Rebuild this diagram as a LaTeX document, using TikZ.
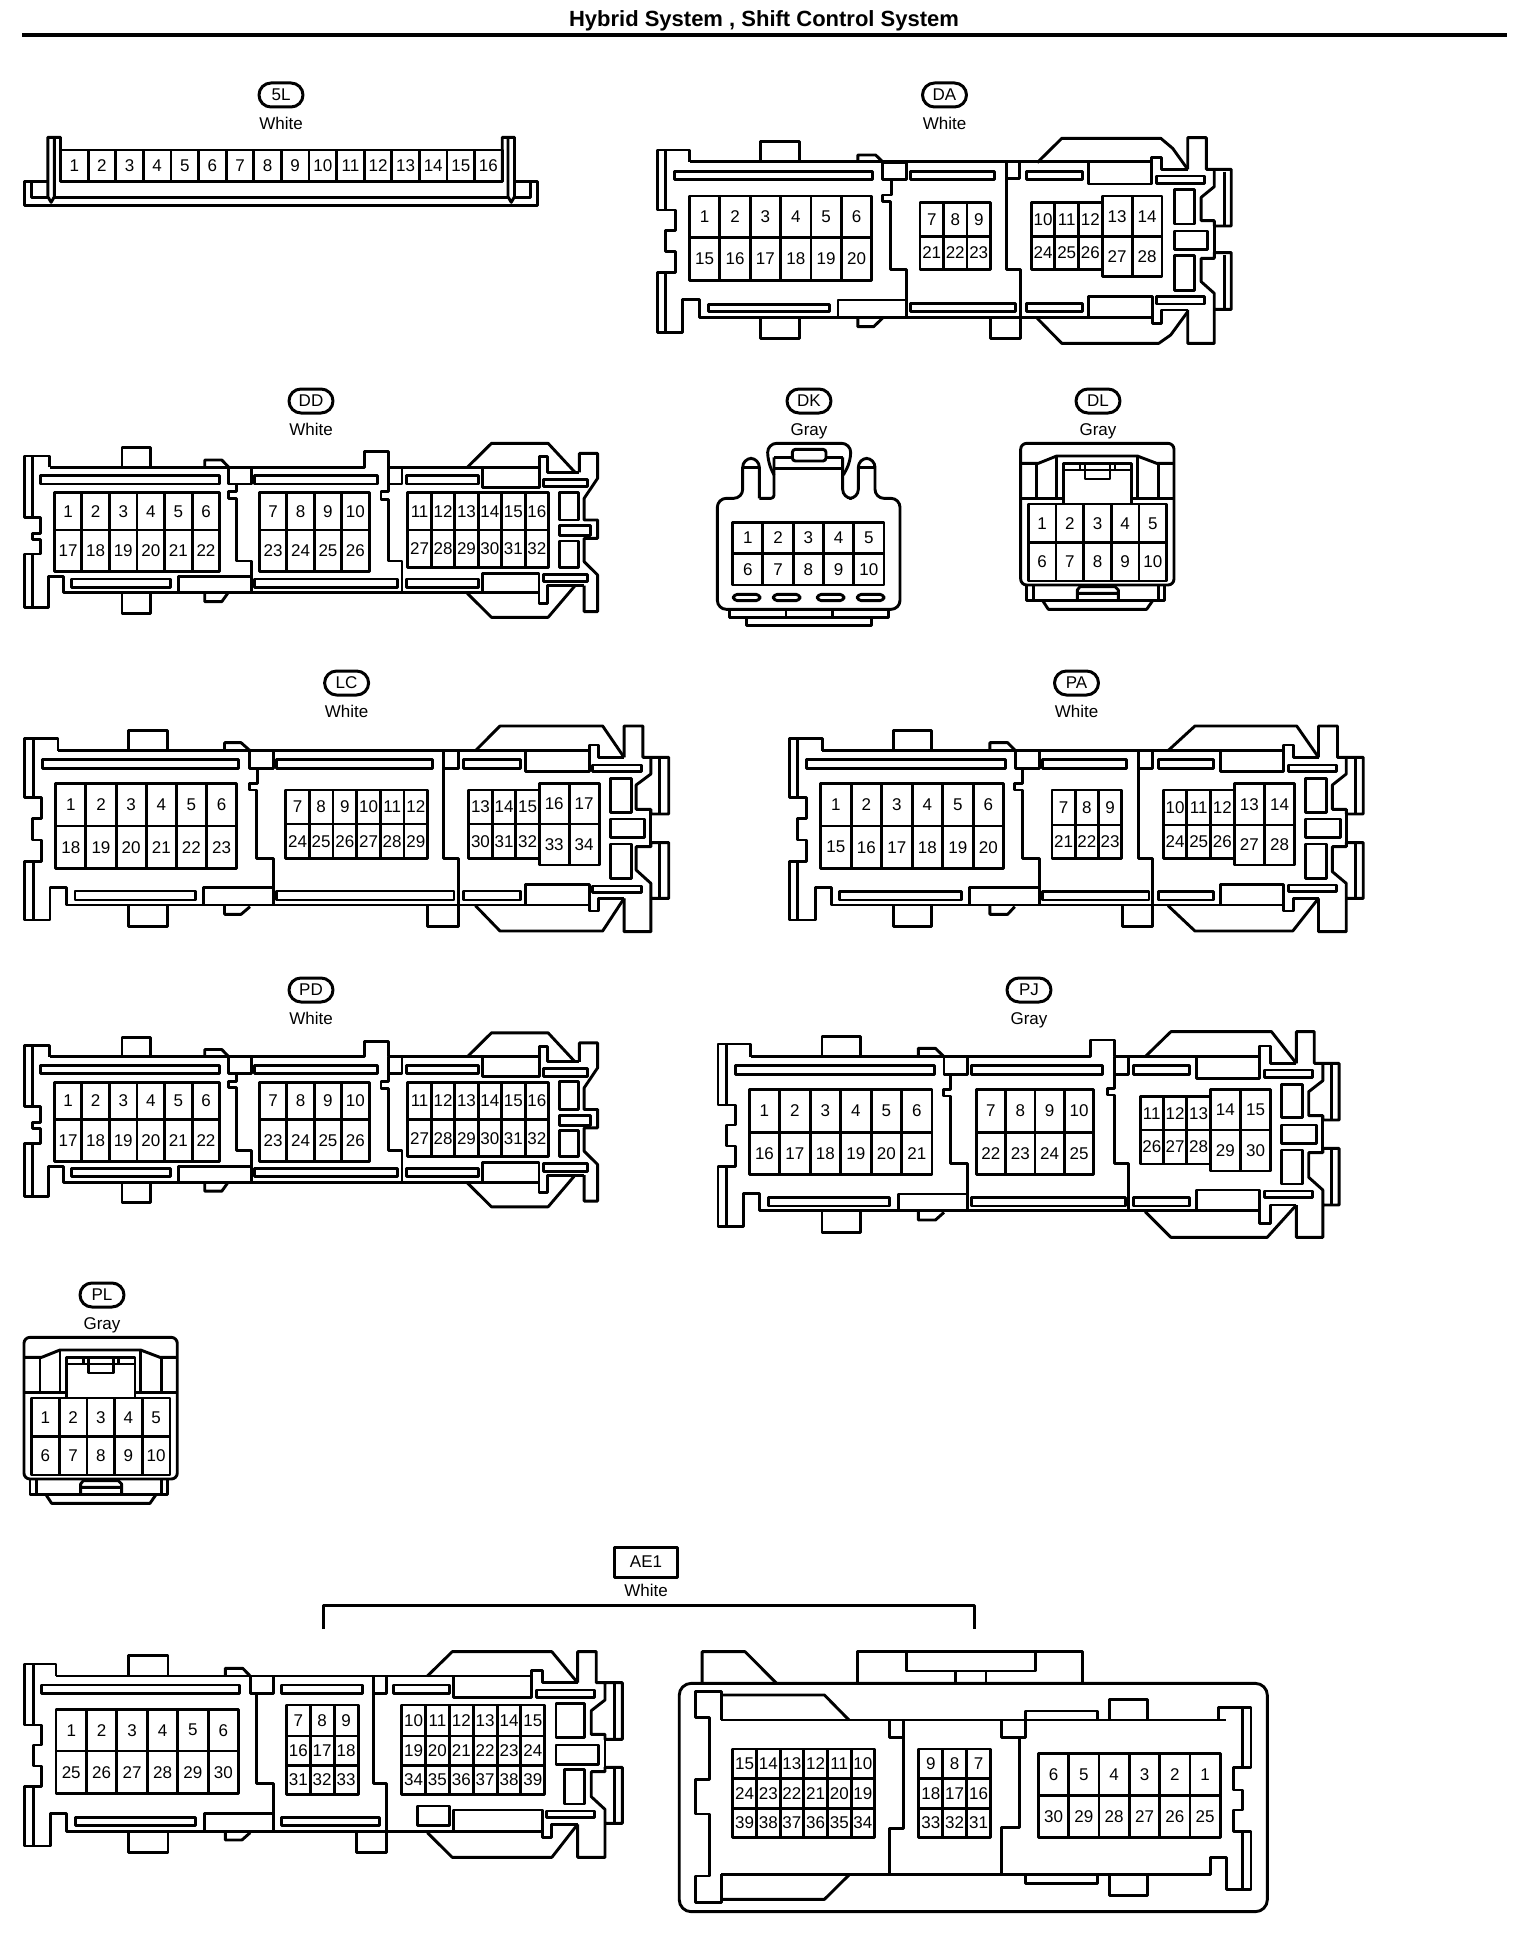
\documentclass[tikz,border=0pt]{standalone}
\usepackage{fontspec}
\setmainfont{Liberation Sans}
\newcount\pinno
\tikzset{
 pinlab/.style={inner sep=0pt,font=\fontsize{17}{17}\selectfont},
 badge/.style={draw,rounded corners=12pt,minimum width=44pt,minimum height=24pt,inner sep=0pt,line width=3pt,font=\fontsize{17}{17}\selectfont},
 tagbox/.style={draw,minimum width=63pt,minimum height=30pt,inner sep=0pt,line width=3pt,font=\fontsize{17}{17}\selectfont},
 colourlab/.style={inner sep=0pt,text height=12.2pt,text depth=0pt,font=\fontsize{17}{17}\selectfont},
 titlelab/.style={inner sep=0pt,font=\fontsize{22}{22}\selectfont\bfseries}
}
\newcommand\pinrow[6]{%
 \foreach \lab [count=\pinidx] in {#6}{%
  \pgfmathsetmacro\xa{#3+(#4-#3)/#5*(\pinidx-1)}%
  \pgfmathsetmacro\xb{#3+(#4-#3)/#5*\pinidx}%
  \global\advance\pinno by 1
  \draw (\xa,#1) rectangle (\xb,#2);
  \node[pinlab] (p\the\pinno) at ({(\xa+\xb)/2},{(#1+#2)/2}) {\lab};
 }}
\newcommand\tagged[5]{%
 \node[badge] (b#1) at (#2,#3) {#1};
 \node[colourlab] (c#1) at (#2,#3+28) {#4};}
\newcommand\ddshape{%
 \draw (125,262)--(125,228)--(62,228)--(62,412)--(103,412)--(103,460)--(82,460)--(82,478)--(103,478)--(103,522)--(62,522)--(62,682)--(122,682)--(122,590)--(160,590)--(160,638)--(1361,638);
 \draw (82,228)--(82,412) (82,522)--(82,682);
 \draw (125,262)--(920,262)--(920,215)--(980,215)--(980,262)--(1363,262);
 \draw (308,262)--(308,203)--(380,203)--(380,262) (308,640)--(308,700)--(380,700)--(380,640);
 \draw (517,262)--(517,240)--(560,240)--(578,262) (517,640)--(517,665)--(560,665)--(575,640);
 \draw (103,287) rectangle (555,312) (180,597) rectangle (430,622);
 \draw (578,262)--(578,312)--(635,312)--(635,262);
 \draw (597,312)--(597,335)--(578,335)--(578,355)--(597,355)--(597,543)--(635,543)--(635,638);
 \draw (450,638)--(450,590)--(635,590);
 \draw (643,287) rectangle (953,312) (643,597) rectangle (1003,622);
 \draw (980,262)--(980,335)--(962,335)--(962,358)--(980,358)--(980,543)--(1015,543)--(1015,638);
 \draw (980,312)--(1015,312)--(1015,262);
 \draw (1027,287) rectangle (1208,312) (1027,597) rectangle (1208,622);
 \draw (1219,262)--(1219,322)--(1363,322)--(1363,230)--(1382,230)--(1382,277)--(1463,277);
 \draw (1219,638)--(1219,580)--(1361,580)--(1361,670)--(1382,670)--(1382,617)--(1475,617);
 \draw (1180,262)--(1241,190)--(1384,190)--(1452,277);
 \draw (1180,640)--(1241,712)--(1384,712)--(1452,617);
 \draw (1463,277)--(1463,220)--(1509,220)--(1509,295)--(1475,355)--(1475,420)--(1509,420)--(1509,475)--(1475,475)--(1475,545)--(1509,585)--(1509,695)--(1475,695)--(1475,617);
 \draw (1412,337) rectangle (1460,420) (1412,437) rectangle (1491,467) (1412,483) rectangle (1460,562);
 \draw (1372,298) rectangle (1484,320) (1372,583) rectangle (1484,605);
 \pinrow{338}{450}{137}{555}{6}{1,2,3,4,5,6}
 \pinrow{450}{575}{137}{555}{6}{17,18,19,20,21,22}
 \pinrow{338}{450}{655}{932}{4}{7,8,9,10}
 \pinrow{450}{575}{655}{932}{4}{23,24,25,26}
 \pinrow{338}{450}{1030}{1385}{6}{11,12,13,14,15,16}
 \pinrow{450}{562}{1030}{1385}{6}{27,28,29,30,31,32}
}
\newcommand\dlshape{%
 \draw[rounded corners=6pt] (962,190) rectangle (1422,615);
 \draw (962,250)--(1015,250)--(1070,228)--(1312,228)--(1370,250)--(1422,250);
 \draw (1010,250)--(1010,355) (1070,228)--(1070,355) (1312,228)--(1312,355) (1375,250)--(1375,355);
 \draw (962,355)--(1090,355) (1295,355)--(1422,355);
 \draw (1090,370)--(1090,250)--(1295,250)--(1295,370);
 \draw (1090,270)--(1295,270) (1140,250)--(1140,270) (1245,250)--(1245,270);
 \draw (1155,250)--(1155,297)--(1230,297)--(1230,250);
 \pinrow{372}{488}{985}{1400}{5}{1,2,3,4,5}
 \pinrow{488}{603}{985}{1400}{5}{6,7,8,9,10}
 \draw (980,615)--(980,662)--(1393,662)--(1393,615) (1000,615)--(1000,662) (1375,615)--(1375,662);
 \draw (1132,662)--(1132,630)--(1140,620)--(1245,620)--(1255,630)--(1255,662) (1132,640)--(1255,640);
 \draw (1028,662)--(1045,688)--(1340,688)--(1358,662);
}
\begin{document}
\begin{tikzpicture}[x=1pt,y=-1pt,line width=2.9pt,line join=round]
\useasboundingbox (0,0) rectangle (1520,1940);
\fill[white] (0,0) rectangle (1520,1940);
% title
\node[titlelab] (title) at (764,21) {Hybrid System , Shift Control System};
\coordinate (ruleL) at (22,35);
\coordinate (ruleR) at (1507,35);
\draw[line width=4pt] (ruleL)--(ruleR);

% 5L
\tagged{5L}{281}{95}{White}{}
\begin{scope}[xscale=1/2.445,yscale=1/3]
 \draw (118,545)--(60,545)--(60,617)--(1315,617)--(1315,545)--(1258,545);
 \draw (118,593)--(78,593)--(78,545) (1258,593)--(1297,593)--(1297,545);
 \draw (133,593)--(1242,593);
 \draw (148,545)--(148,412)--(117,412)--(117,590)--(125,607)--(133,590)--(133,412);
 \draw (1228,545)--(1228,412)--(1258,412)--(1258,590)--(1250,607)--(1242,590)--(1242,412);
 \pinrow{450}{545}{148}{1228}{16}{1,2,3,4,5,6,7,8,9,10,11,12,13,14,15,16}
\end{scope}

% DA
\tagged{DA}{944.5}{95}{White}{}
\begin{scope}[shift={(640,70)},xscale=1/2.525,yscale=1/3]
 \draw (125,275)--(125,240)--(45,240)--(45,420)--(90,420)--(90,482)--(65,482)--(65,545)--(90,545)--(90,608)--(45,608)--(45,787)--(108,787)--(108,688)--(150,688)--(150,742)--(1295,742);
 \draw (125,275)--(1292,275);
 \draw (65,240)--(65,420) (65,608)--(65,787);
 \draw (305,275)--(305,215)--(403,215)--(403,275) (305,745)--(305,805)--(403,805)--(403,745);
 \draw (550,275)--(550,255)--(595,255)--(615,278) (550,745)--(550,770)--(590,770)--(612,745);
 \draw (88,305) rectangle (588,328) (172,703) rectangle (478,725);
 \draw (612,278)  rectangle (672,328);
 \draw (635,328)--(635,375)--(612,375)--(612,395)--(632,395)--(632,598)--(672,598)--(672,742);
 \draw (500,742)--(500,690)--(672,690);
 \draw (683,305) rectangle (895,328) (683,700) rectangle (948,725);
 \draw (885,745)--(885,805)--(960,805)--(960,742);
 \draw (925,278)--(925,598)--(960,598)--(960,742);
 \draw (925,325)--(958,325)--(958,278);
 \draw (977,305) rectangle (1117,328) (977,700) rectangle (1117,725);
 \draw (1132,278)--(1132,342)--(1292,342)--(1292,262)--(1317,262)--(1317,298)--(1383,298);
 \draw (1132,742)--(1132,680)--(1295,680)--(1295,760)--(1317,760)--(1317,720)--(1383,720);
 \draw (1003,278)--(1065,205)--(1315,205)--(1345,235)--(1383,298);
 \draw (1003,745)--(1065,820)--(1310,820)--(1340,795)--(1383,725);
 \draw (1383,298)--(1383,203)--(1430,203)--(1430,298)--(1493,298)--(1493,468)--(1450,468)--(1450,452)--(1417,452)--(1417,382)--(1450,350)--(1450,298);
 \draw (1383,720)--(1383,820)--(1450,820)--(1450,718)--(1493,718)--(1493,548)--(1450,548)--(1450,565)--(1417,565)--(1417,635)--(1450,670)--(1450,718);
 \draw (1450,452)--(1450,565) (1475,305)--(1475,465) (1475,555)--(1475,715);
 \draw (1305,318) rectangle (1425,340) (1305,680) rectangle (1425,702);
 \draw (1350,358) rectangle (1400,462) (1350,483) rectangle (1433,538) (1350,556) rectangle (1400,662);
 \pinrow{378}{502}{125}{585}{6}{1,2,3,4,5,6}
 \pinrow{502}{632}{125}{585}{6}{15,16,17,18,19,20}
 \pinrow{397}{500}{707}{885}{3}{7,8,9}
 \pinrow{500}{598}{707}{885}{3}{21,22,23}
 \pinrow{397}{500}{988}{1167}{3}{10,11,12}
 \pinrow{500}{598}{988}{1167}{3}{24,25,26}
 \pinrow{378}{500}{1167}{1318}{2}{13,14}
 \pinrow{500}{620}{1167}{1318}{2}{27,28}
\end{scope}

% DD
\tagged{DD}{311}{401}{White}{}
\begin{scope}[shift={(0,380)},xscale=1/2.525,yscale=1/3]
 \ddshape
\end{scope}

% DK
\tagged{DK}{809}{401}{Gray}{}
\begin{scope}[shift={(700,380)},xscale=1/3,yscale=1/3]
 \draw[rounded corners=9pt] (178,355)--(178,235)--(128,235)--(128,355)--(52,355)--(52,688)--(600,688)--(600,355)--(525,355)--(525,235)--(475,235)--(475,355)--(428,355)--(428,232);
 \draw[rounded corners=3pt] (178,355)--(222,355)--(222,232);
 \draw (130,262)--(178,262) (475,262)--(525,262);
 \draw[rounded corners=9pt] (222,285)--(203,245)--(203,190)--(452,190)--(452,245)--(430,285);
 \draw[rounded corners=3pt] (277,208) rectangle (378,243);
 \draw (222,232)--(277,232) (378,232)--(428,232) (222,265)--(428,265);
 \pinrow{427}{520}{98}{552}{5}{1,2,3,4,5}
 \pinrow{520}{615}{98}{552}{5}{6,7,8,9,10}
 \draw[rounded corners=4pt] (100,643) rectangle (180,662) (220,643) rectangle (300,662) (352,643) rectangle (432,662) (472,643) rectangle (552,662);
 \draw (88,688)--(88,712)--(140,712)--(140,737)--(515,737)--(515,712)--(565,712)--(565,688);
 \draw (88,712)--(565,712) (258,688)--(258,712) (398,688)--(398,712);
\end{scope}

% DL
\tagged{DL}{1098}{401}{Gray}{}
\begin{scope}[shift={(700,380)},xscale=1/3,yscale=1/3]
 \dlshape
\end{scope}

% LC
\tagged{LC}{346.6}{683}{White}{}
\begin{scope}[shift={(0,670)},xscale=1/2.24,yscale=1/3]
 \draw (130,242)--(130,205)--(55,205)--(55,382)--(92,382)--(92,445)--(72,445)--(72,510)--(92,510)--(92,575)--(55,575)--(55,750)--(112,750)--(112,652)--(148,652)--(148,705)--(1320,705);
 \draw (75,205)--(75,382) (75,575)--(75,750);
 \draw (130,242)--(1320,242);
 \draw (288,242)--(288,182)--(375,182)--(375,242) (288,707)--(288,770)--(375,770)--(375,707);
 \draw (503,242)--(503,218)--(540,218)--(560,242) (503,707)--(503,733)--(540,733)--(560,710);
 \draw (95,268) rectangle (535,295) (168,663) rectangle (438,690);
 \draw (558,242)--(558,295)--(612,295)--(612,242);
 \draw (577,295)--(577,340)--(558,340)--(558,360)--(575,360)--(575,565)--(612,565)--(612,705);
 \draw (455,705)--(455,652)--(612,652);
 \draw (620,268) rectangle (968,295) (620,663) rectangle (1017,690);
 \draw (958,705)--(958,770)--(1027,770)--(1027,705);
 \draw (993,242)--(993,565)--(1027,565)--(1027,705);
 \draw (993,295)--(1027,295)--(1027,242);
 \draw (1038,268) rectangle (1165,295) (1038,663) rectangle (1165,690);
 \draw (1177,242)--(1177,305)--(1320,305)--(1320,225)--(1340,225)--(1340,262)--(1398,262);
 \draw (1177,705)--(1177,643)--(1320,643)--(1320,723)--(1340,723)--(1340,685)--(1398,685);
 \draw (1065,242)--(1120,168)--(1350,168)--(1398,262) (1065,707)--(1120,783)--(1350,783)--(1398,685);
 \draw (1398,262)--(1398,168)--(1440,168)--(1440,262)--(1498,262)--(1498,432)--(1458,432)--(1458,418)--(1425,418)--(1425,345)--(1458,312)--(1458,262);
 \draw (1398,685)--(1398,785)--(1458,785)--(1458,685)--(1498,685)--(1498,518)--(1458,518)--(1458,530)--(1425,530)--(1425,600)--(1458,640)--(1458,685);
 \draw (1458,418)--(1458,530) (1478,268)--(1478,430) (1478,522)--(1478,683);
 \draw (1328,285) rectangle (1438,305) (1328,648) rectangle (1438,667);
 \draw (1368,325) rectangle (1415,427) (1368,447) rectangle (1443,503) (1368,522) rectangle (1415,625);
 \pinrow{340}{468}{125}{530}{6}{1,2,3,4,5,6}
 \pinrow{468}{595}{125}{530}{6}{18,19,20,21,22,23}
 \pinrow{360}{462}{640}{958}{6}{7,8,9,10,11,12}
 \pinrow{462}{565}{640}{958}{6}{24,25,26,27,28,29}
 \pinrow{360}{462}{1050}{1208}{3}{13,14,15}
 \pinrow{462}{565}{1050}{1208}{3}{30,31,32}
 \pinrow{340}{462}{1208}{1342}{2}{16,17}
 \pinrow{462}{585}{1208}{1342}{2}{33,34}
\end{scope}

% PA
\tagged{PA}{1076.5}{683}{White}{}
\begin{scope}[shift={(770,670)},xscale=1/2.525,yscale=1/3]
 \draw (132,242)--(132,205)--(50,205)--(50,382)--(92,382)--(92,445)--(70,445)--(70,510)--(92,510)--(92,575)--(50,575)--(50,750)--(115,750)--(115,652)--(155,652)--(155,705)--(1297,705);
 \draw (70,205)--(70,382) (70,575)--(70,750);
 \draw (132,242)--(1297,242);
 \draw (312,242)--(312,182)--(408,182)--(408,242) (312,707)--(312,770)--(408,770)--(408,707);
 \draw (555,242)--(555,218)--(600,218)--(620,242) (555,707)--(555,733)--(600,733)--(618,710);
 \draw (93,268) rectangle (595,295) (175,665) rectangle (483,690);
 \draw (620,242)--(620,295)--(680,295)--(680,242);
 \draw (638,295)--(638,340)--(618,340)--(618,360)--(637,360)--(637,565)--(680,565)--(680,705);
 \draw (503,705)--(503,652)--(680,652);
 \draw (688,268) rectangle (900,295) (688,665) rectangle (957,690);
 \draw (890,705)--(890,770)--(965,770)--(965,705);
 \draw (930,242)--(930,565)--(965,565)--(965,705);
 \draw (930,295)--(965,295)--(965,242);
 \draw (980,268) rectangle (1120,295) (980,665) rectangle (1120,690);
 \draw (1137,242)--(1137,305)--(1297,305)--(1297,225)--(1322,225)--(1322,262)--(1385,262);
 \draw (1137,705)--(1137,643)--(1297,643)--(1297,723)--(1322,723)--(1322,685)--(1385,685);
 \draw (1005,242)--(1073,168)--(1330,168)--(1385,262) (1005,707)--(1073,783)--(1320,783)--(1385,685);
 \draw (1385,262)--(1385,168)--(1433,168)--(1433,262)--(1498,262)--(1498,432)--(1455,432)--(1455,418)--(1420,418)--(1420,345)--(1455,312)--(1455,262);
 \draw (1385,685)--(1385,785)--(1455,785)--(1455,685)--(1498,685)--(1498,518)--(1455,518)--(1455,530)--(1420,530)--(1420,605)--(1455,640)--(1455,685);
 \draw (1455,418)--(1455,530) (1478,268)--(1478,430) (1478,522)--(1478,683);
 \draw (1310,285) rectangle (1430,305) (1310,645) rectangle (1430,665);
 \draw (1352,325) rectangle (1405,427) (1352,447) rectangle (1440,503) (1352,522) rectangle (1405,625);
 \pinrow{340}{468}{128}{590}{6}{1,2,3,4,5,6}
 \pinrow{468}{595}{128}{590}{6}{15,16,17,18,19,20}
 \pinrow{360}{465}{712}{888}{3}{7,8,9}
 \pinrow{465}{565}{712}{888}{3}{21,22,23}
 \pinrow{360}{465}{993}{1172}{3}{10,11,12}
 \pinrow{465}{565}{993}{1172}{3}{24,25,26}
 \pinrow{340}{465}{1172}{1325}{2}{13,14}
 \pinrow{465}{585}{1172}{1325}{2}{27,28}
\end{scope}

% PD
\tagged{PD}{311}{990}{White}{}
\begin{scope}[shift={(0,969.5)},xscale=1/2.525,yscale=1/3]
 \ddshape
\end{scope}

% PJ
\tagged{PJ}{1029}{990}{Gray}{}
\begin{scope}[shift={(700,970)},xscale=1/2.336,yscale=1/3]
 \draw (118,260)--(118,222)--(42,222)--(42,405)--(82,405)--(82,465)--(62,465)--(62,528)--(82,528)--(82,590)--(42,590)--(42,770)--(102,770)--(102,670)--(140,670)--(140,722)--(1307,722);
 \draw (62,222)--(62,405) (62,590)--(62,770);
 \draw (118,260)--(912,260)--(912,210)--(968,210)--(968,260)--(1307,260);
 \draw (285,260)--(285,200)--(375,200)--(375,260) (285,725)--(285,787)--(375,787)--(375,725);
 \draw (510,260)--(510,235)--(550,235)--(570,260) (510,725)--(510,750)--(550,750)--(570,727);
 \draw (83,287) rectangle (548,313) (160,683) rectangle (443,708);
 \draw (570,260)--(570,313)--(625,313)--(625,260);
 \draw (585,313)--(585,358)--(568,358)--(568,378)--(585,378)--(585,580)--(625,580)--(625,722);
 \draw (463,722)--(463,672)--(625,672);
 \draw (635,287) rectangle (940,313) (635,683) rectangle (993,708);
 \draw (968,260)--(968,355)--(952,355)--(952,375)--(968,375)--(968,580)--(1000,580)--(1000,722);
 \draw (968,313)--(1000,313)--(1000,260);
 \draw (1013,287) rectangle (1143,313) (1013,683) rectangle (1143,708);
 \draw (1160,260)--(1160,325)--(1307,325)--(1307,228)--(1332,228)--(1332,280)--(1393,280);
 \draw (1160,722)--(1160,660)--(1307,660)--(1307,760)--(1332,760)--(1332,705)--(1393,705);
 \draw (1040,260)--(1100,185)--(1335,185)--(1393,280) (1040,725)--(1100,802)--(1325,802)--(1393,705);
 \draw (1393,280)--(1393,185)--(1435,185)--(1435,280)--(1493,280)--(1493,450)--(1455,450)--(1455,437)--(1422,437)--(1422,365)--(1455,332)--(1455,280);
 \draw (1393,705)--(1393,802)--(1455,802)--(1455,705)--(1493,705)--(1493,535)--(1455,535)--(1455,548)--(1422,548)--(1422,622)--(1455,660)--(1455,705);
 \draw (1455,437)--(1455,548) (1475,285)--(1475,448) (1475,540)--(1475,702);
 \draw (1318,300) rectangle (1430,322) (1318,663) rectangle (1430,683);
 \draw (1358,343) rectangle (1408,443) (1358,465) rectangle (1440,520) (1358,540) rectangle (1408,642);
 \pinrow{358}{487}{115}{542}{6}{1,2,3,4,5,6}
 \pinrow{487}{613}{115}{542}{6}{16,17,18,19,20,21}
 \pinrow{358}{487}{645}{920}{4}{7,8,9,10}
 \pinrow{487}{613}{645}{920}{4}{22,23,24,25}
 \pinrow{380}{480}{1028}{1192}{3}{11,12,13}
 \pinrow{480}{582}{1028}{1192}{3}{26,27,28}
 \pinrow{358}{480}{1192}{1333}{2}{14,15}
 \pinrow{480}{603}{1192}{1333}{2}{29,30}
\end{scope}

% PL
\tagged{PL}{102}{1295}{Gray}{}
\begin{scope}[shift={(-296.7,1274)},xscale=1/3,yscale=1/3]
 \dlshape
\end{scope}

% AE1
\node[tagbox] (tagAE) at (646,1562) {AE1};
\node[colourlab] (colAE) at (646,1590) {White};
\coordinate (brA) at (323,1629);
\coordinate (brB) at (323,1605);
\coordinate (brC) at (974,1605);
\coordinate (brD) at (974,1629);
\draw[line width=3pt] (brA)--(brB)--(brC)--(brD);

\begin{scope}[shift={(0,1640)},xscale=1/2.41,yscale=1/3]
 \draw (135,108)--(135,72)--(60,72)--(60,255)--(100,255)--(100,315)--(80,315)--(80,378)--(100,378)--(100,440)--(60,440)--(60,618)--(122,618)--(122,520)--(160,520)--(160,575)--(1307,575);
 \draw (80,72)--(80,255) (80,440)--(80,618);
 \draw (135,108)--(1282,108);
 \draw (310,108)--(310,47)--(405,47)--(405,108) (310,578)--(310,637)--(405,637)--(405,578);
 \draw (543,108)--(543,85)--(585,85)--(603,108) (543,578)--(543,600)--(583,600)--(603,578);
 \draw (100,135) rectangle (578,160) (183,533) rectangle (472,557);
 \draw (603,108)--(603,160)--(660,160)--(660,108);
 \draw (618,160)--(618,430)--(660,430)--(660,575);
 \draw (492,575)--(492,520)--(660,520);
 \draw (678,135) rectangle (873,160) (678,533) rectangle (915,557);
 \draw (860,575)--(860,637)--(932,637)--(932,575);
 \draw (900,108)--(900,430)--(932,430)--(932,575);
 \draw (900,160)--(932,160)--(932,108);
 \draw (948,135) rectangle (1083,160);
 \draw (1093,108)--(1093,172)--(1282,172)--(1282,92)--(1307,92)--(1307,128)--(1392,128);
 \draw (1007,498) rectangle (1083,557);
 \draw (1093,575)--(1093,510)--(1307,510)--(1307,592)--(1330,592)--(1330,553)--(1392,553);
 \draw (1030,108)--(1090,35)--(1330,35)--(1392,128) (1030,578)--(1090,652)--(1330,652)--(1392,553);
 \draw (1392,128)--(1392,35)--(1437,35)--(1437,128)--(1500,128)--(1500,298)--(1458,298)--(1458,283)--(1425,283)--(1425,212)--(1458,180)--(1458,128);
 \draw (1392,553)--(1392,652)--(1458,652)--(1458,550)--(1500,550)--(1500,382)--(1458,382)--(1458,395)--(1425,395)--(1425,470)--(1458,508)--(1458,550);
 \draw (1458,283)--(1458,395) (1480,133)--(1480,296) (1480,388)--(1480,548);
 \draw (1293,150) rectangle (1432,172) (1318,513) rectangle (1432,533);
 \draw (1340,190) rectangle (1408,293) (1340,315) rectangle (1443,373) (1360,388) rectangle (1408,492);
 \pinrow{208}{333}{135}{575}{6}{1,2,3,4,5,6}
 \pinrow{333}{460}{135}{575}{6}{25,26,27,28,29,30}
 \pinrow{195}{288}{690}{863}{3}{7,8,9}
 \pinrow{288}{377}{690}{863}{3}{16,17,18}
 \pinrow{377}{463}{690}{863}{3}{31,32,33}
 \pinrow{195}{288}{968}{1313}{6}{10,11,12,13,14,15}
 \pinrow{288}{377}{968}{1313}{6}{19,20,21,22,23,24}
 \pinrow{377}{463}{968}{1313}{6}{34,35,36,37,38,39}
\end{scope}

\begin{scope}[shift={(660,1640)},xscale=1/2.445,yscale=1/3]
 \draw[rounded corners=12pt] (47,130) rectangle (1485,815);
 \draw (103,130)--(103,35)--(208,35)--(285,130);
 \draw (483,130)--(483,35)--(1033,35)--(1033,130);
 \draw (603,35)--(603,93)--(917,93)--(917,35) (722,93)--(722,130) (797,93)--(797,130);
 \draw (150,240)--(1385,240);
 \draw (150,240)--(150,155)--(87,155)--(87,232)--(120,232)--(120,418)--(87,418)--(87,522)--(120,522)--(120,708)--(87,708)--(87,788)--(150,788)--(150,703);
 \draw (150,165)--(402,165)--(462,240) (150,778)--(402,778)--(462,705);
 \draw (150,703)--(1347,703)--(1347,652)--(1385,652)--(1385,748)--(1445,748)--(1445,575)--(1403,575)--(1403,510)--(1425,510)--(1425,450)--(1403,450)--(1403,382)--(1445,382)--(1445,203)--(1365,203)--(1365,240);
 \draw (1425,203)--(1425,382) (1425,575)--(1425,748);
 \draw (595,240)--(595,565)--(562,565)--(562,703) (562,240)--(562,292)--(595,292);
 \draw (835,240)--(835,292)--(893,292)--(893,240) (878,292)--(878,562)--(835,562)--(835,703);
 \draw (893,240)--(893,213)--(1070,213)--(1070,240) (893,705)--(893,730)--(1070,730)--(1070,705);
 \draw (1098,240)--(1098,178)--(1192,178)--(1192,240) (1098,705)--(1098,767)--(1192,767)--(1192,705);
 \pinrow{327}{415}{178}{525}{6}{15,14,13,12,11,10}
 \pinrow{415}{505}{178}{525}{6}{24,23,22,21,20,19}
 \pinrow{505}{593}{178}{525}{6}{39,38,37,36,35,34}
 \pinrow{327}{415}{633}{808}{3}{9,8,7}
 \pinrow{415}{505}{633}{808}{3}{18,17,16}
 \pinrow{505}{593}{633}{808}{3}{33,32,31}
 \pinrow{340}{467}{925}{1370}{6}{6,5,4,3,2,1}
 \pinrow{467}{592}{925}{1370}{6}{30,29,28,27,26,25}
\end{scope}
\end{tikzpicture}
\end{document}
